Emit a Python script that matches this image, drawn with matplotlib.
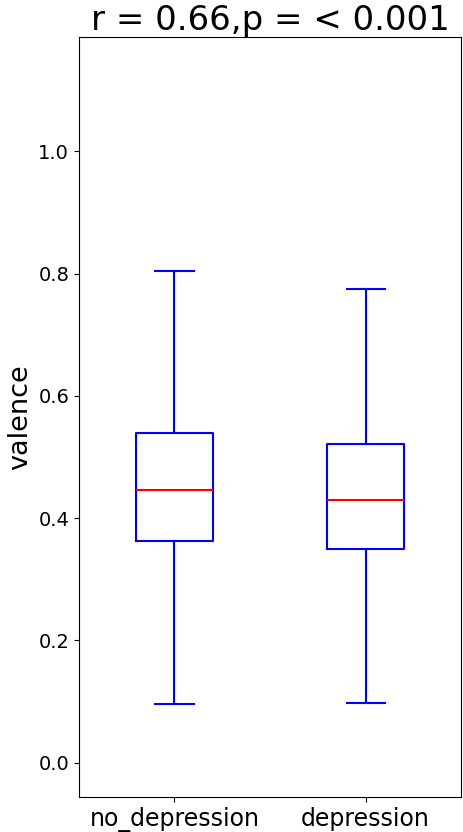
import matplotlib
matplotlib.use("Agg")
import matplotlib.pyplot as plt

# box stats
groups = ["no_depression", "depression"]
whislo = [0.096, 0.098]
q1 = [0.362, 0.350]
med = [0.446, 0.430]
q3 = [0.539, 0.521]
whishi = [0.804, 0.775]
title = "r = 0.66,p = < 0.001"


def make_stats():
    stats = []
    for i, g in enumerate(groups):
        stats.append(dict(label=g, whislo=whislo[i], q1=q1[i], med=med[i],
                          q3=q3[i], whishi=whishi[i], fliers=[]))
    return stats


fig = plt.figure(figsize=(4.64, 8.32), dpi=100)
ax = fig.add_axes([0.170, 0.042, 0.824, 0.913])

blue = dict(color="blue", linewidth=1.5)
ax.bxp(make_stats(), positions=[1, 2], widths=0.4, showfliers=False,
       boxprops=blue, whiskerprops=blue, capprops=blue,
       medianprops=dict(color="red", linewidth=1.5))

ax.set_xlim(0.5, 2.5)
ax.set_ylim(-0.056, 1.186)
ax.set_yticks([0.0, 0.2, 0.4, 0.6, 0.8, 1.0])
ax.tick_params(axis="y", labelsize=14)
ax.tick_params(axis="x", labelsize=17)
ax.set_ylabel("valence", fontsize=19.5)
ax.set_title(title, fontsize=24.5, pad=4)

fig.savefig("out.png", dpi=100)
